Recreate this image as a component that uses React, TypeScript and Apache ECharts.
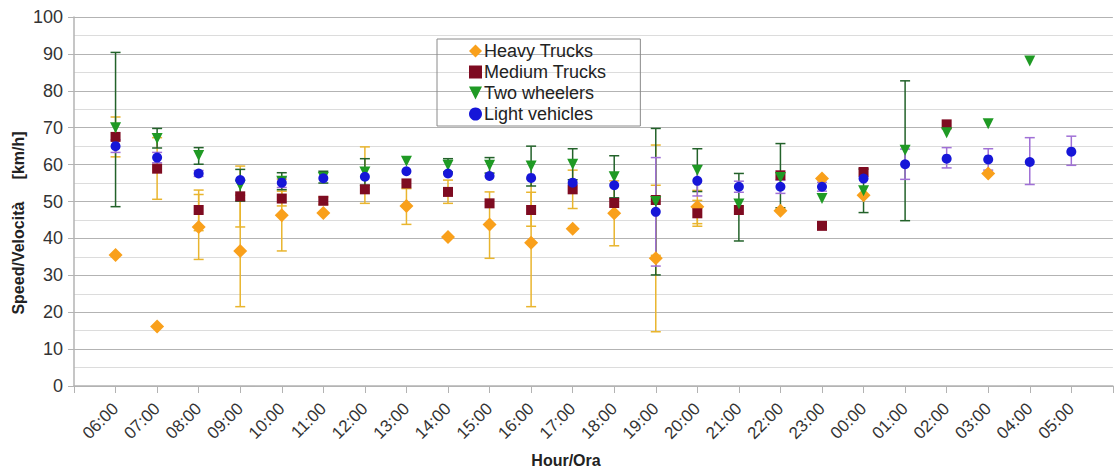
import { useEffect, useRef } from 'react';
import * as echarts from 'echarts';

// hours on the x axis, padded with an empty slot at each end
const hours = [
  '06:00', '07:00', '08:00', '09:00', '10:00', '11:00', '12:00', '13:00',
  '14:00', '15:00', '16:00', '17:00', '18:00', '19:00', '20:00', '21:00',
  '22:00', '23:00', '00:00', '01:00', '02:00', '03:00', '04:00', '05:00',
];
const yTicks = [0, 100, 10];

const heavy = [35.5, 16.1, 43.1, 36.6, 46.3, 46.9, null, 48.8, 40.4, 43.8, 38.8, 42.6, 46.8, 34.6, 48.6, null, 47.5, 56.2, 51.7, null, null, 57.6, null, null];
const heavyLow = [null, null, 34.3, 21.5, 36.6, null, null, 43.8, null, 34.6, 21.5, null, 38.0, 14.7, 44.0, null, null, null, null, null, null, null, null, null];
const heavyHigh = [null, null, 51.9, 51.7, 56.0, null, null, 53.5, null, 52.6, 56.1, null, 55.6, 54.4, 53.0, null, null, null, null, null, null, null, null, null];

const medium = [67.5, 58.9, 47.7, 51.4, 50.8, 50.2, 53.3, 54.9, 52.6, 49.5, 47.7, 53.3, 49.6, 50.4, 46.8, 47.7, 57.1, 43.4, 58.0, null, 70.9, null, null, null];
const mediumLow = [62.1, 50.6, 42.1, 43.1, 48.8, 49.2, 49.5, null, 49.5, null, 43.3, 48.1, null, 35.4, 43.3, null, null, null, null, null, null, null, null, null];
const mediumHigh = [72.9, 67.3, 53.1, 59.6, 52.8, 51.2, 64.8, null, 55.8, null, 52.5, 58.5, null, 65.3, 50.3, null, null, null, null, null, null, null, null, null];

const two = [70.0, 67.1, 62.5, 54.4, 55.5, 56.5, 58.0, 60.9, 59.8, 59.8, 59.6, 60.1, 56.7, 50.0, 58.5, 49.3, 56.5, 50.8, 52.9, 63.9, 68.6, 71.1, 88.1, null];
const twoLow = [48.6, 64.5, 60.1, 50.1, 53.2, 55.0, 54.4, null, 58.0, 57.7, 54.2, 55.9, 51.0, 30.1, 52.7, 39.3, 48.3, null, 47.0, 44.8, null, null, null, null];
const twoHigh = [90.4, 69.8, 64.6, 58.7, 57.8, 58.2, 61.6, null, 61.6, 61.9, 65.0, 64.3, 62.4, 69.8, 64.3, 57.6, 65.7, null, 58.8, 82.7, null, null, null, null];

const light = [65.0, 61.9, 57.6, 55.8, 55.1, 56.3, 56.7, 58.2, 57.6, 56.9, 56.4, 55.1, 54.4, 47.2, 55.6, 54.0, 54.0, 54.0, 56.2, 60.1, 61.6, 61.4, 60.7, 63.5];
const lightLow = [63.3, 60.5, 56.8, null, 53.8, null, null, null, null, null, null, null, null, 32.5, 51.5, 52.5, 52.2, 52.8, null, 56.0, 59.1, 58.5, 54.6, 59.8];
const lightHigh = [66.7, 63.3, 58.4, null, 56.4, null, null, null, null, null, null, null, null, 61.9, 59.7, 55.5, 55.8, 55.2, null, 64.2, 64.6, 64.3, 67.3, 67.7];

const FONT = 'Liberation Sans';

const points = (vals: (number | null)[]) =>
  vals.map((v, i) => (v == null ? null : [i + 1, v])).filter(Boolean);

const bars = (lo: (number | null)[], hi: (number | null)[]) =>
  lo.map((l, i) => (l == null || hi[i] == null ? null : [i + 1, l, hi[i]])).filter(Boolean);

function errorSeries(name: string, lo: (number | null)[], hi: (number | null)[], color: string) {
  return {
    type: 'custom',
    name,
    data: bars(lo, hi),
    encode: { x: 0, y: [1, 2] },
    z: 1,
    renderItem: (_p: any, api: any) => {
      const x = api.value(0);
      const a = api.coord([x, api.value(1)]);
      const b = api.coord([x, api.value(2)]);
      const w = 5;
      const style = { stroke: color, lineWidth: 1.5 };
      return {
        type: 'group',
        children: [
          { type: 'line', shape: { x1: a[0], y1: a[1], x2: b[0], y2: b[1] }, style },
          { type: 'line', shape: { x1: a[0] - w, y1: a[1], x2: a[0] + w, y2: a[1] }, style },
          { type: 'line', shape: { x1: b[0] - w, y1: b[1], x2: b[0] + w, y2: b[1] }, style },
        ],
      };
    },
  };
}

export default function App() {
  const chartRef = useRef<HTMLDivElement>(null);

  useEffect(() => {
    if (!chartRef.current) return;
    const chart = echarts.init(chartRef.current, undefined, { renderer: 'svg' });

    chart.setOption({
      animation: false,
      textStyle: { fontFamily: FONT },
      grid: { left: 74, right: -11, top: 17, bottom: 85 },
      legend: {
        orient: 'vertical',
        left: 437,
        top: 39,
        data: ['Heavy Trucks', 'Medium Trucks', 'Two wheelers', 'Light vehicles'],
        itemWidth: 13,
        itemHeight: 13,
        itemGap: 3,
        padding: [3, 34, 3, 32],
        borderColor: '#8a8a8a',
        borderWidth: 1,
        textStyle: { fontFamily: FONT, fontSize: 18, color: '#222', padding: [0, 0, 0, -3] },
      },
      xAxis: {
        type: 'category',
        boundaryGap: false,
        data: ['', ...hours, ''],
        axisLine: { lineStyle: { color: '#b3b3b3', width: 1.5 } },
        axisTick: { interval: 0, length: 7, lineStyle: { color: '#b3b3b3' } },
        axisLabel: { interval: 0, rotate: 45, margin: 20, fontSize: 17, color: '#333', fontFamily: FONT },
        splitLine: { show: false },
      },
      yAxis: {
        type: 'value',
        min: yTicks[0],
        max: yTicks[1],
        interval: yTicks[2],
        axisLine: { show: true, lineStyle: { color: '#b3b3b3', width: 1.5 } },
        axisTick: { show: true, length: 6, lineStyle: { color: '#b3b3b3' } },
        axisLabel: { margin: 11, fontSize: 18, color: '#333', fontFamily: FONT },
        splitLine: { lineStyle: { color: '#b3b3b3', width: 1.2 } },
        minorTick: { show: false, splitNumber: 2 },
        minorSplitLine: { show: true, lineStyle: { color: '#dcdcdc', width: 1 } },
      },
      graphic: [
        {
          type: 'text',
          x: 18,
          y: 223,
          rotation: Math.PI / 2,
          style: {
            text: 'Speed/Velocità     [km/h]',
            font: `bold 16px "${FONT}"`,
            fill: '#222',
            align: 'center',
            verticalAlign: 'middle',
          },
        },
        {
          type: 'text',
          x: 566,
          y: 460,
          style: {
            text: 'Hour/Ora',
            font: `bold 16px "${FONT}"`,
            fill: '#222',
            align: 'center',
            verticalAlign: 'middle',
          },
        },
      ],
      series: [
        errorSeries('Heavy err', heavyLow, heavyHigh, '#e9b52e'),
        errorSeries('Medium err', mediumLow, mediumHigh, '#e9b52e'),
        errorSeries('Two err', twoLow, twoHigh, '#23622a'),
        errorSeries('Light err', lightLow, lightHigh, '#a070d6'),
        {
          type: 'scatter',
          name: 'Heavy Trucks',
          symbol: 'diamond',
          symbolSize: [14, 14],
          itemStyle: { color: '#f9a01b', opacity: 1 },
          z: 2,
          data: points(heavy),
        },
        {
          type: 'scatter',
          name: 'Medium Trucks',
          symbol: 'rect',
          symbolSize: 10,
          itemStyle: { color: '#7e0b21', opacity: 1 },
          z: 3,
          data: points(medium),
        },
        {
          type: 'scatter',
          name: 'Two wheelers',
          symbol: 'path://M0,0L10,0L5,10Z',
          symbolSize: [11, 11],
          itemStyle: { color: '#1f9a24', opacity: 1 },
          z: 4,
          data: points(two),
        },
        {
          type: 'scatter',
          name: 'Light vehicles',
          symbol: 'circle',
          symbolSize: 10,
          itemStyle: { color: '#1616d8', opacity: 1 },
          z: 5,
          data: points(light),
        },
      ],
    });

    return () => {
      chart.dispose();
    };
  }, []);

  return (
    <div
      ref={chartRef}
      style={{ position: 'absolute', left: 0, top: 0, width: 1115, height: 471, background: '#fff' }}
    />
  );
}
